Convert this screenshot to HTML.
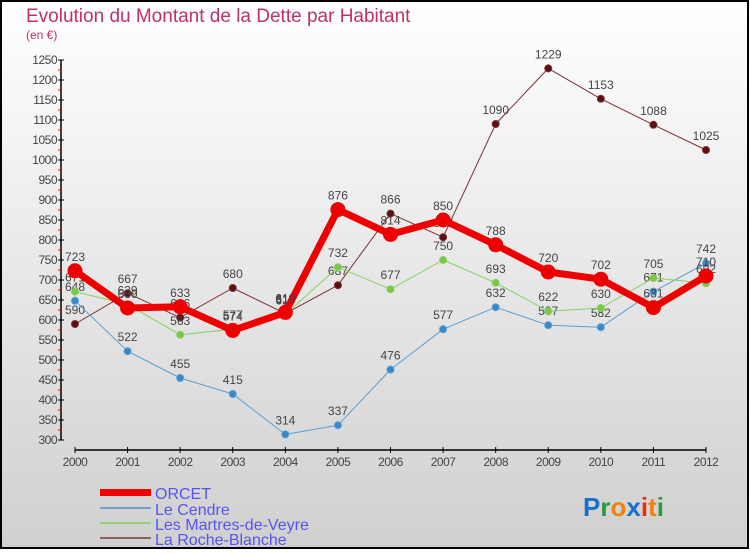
<!DOCTYPE html>
<html><head><meta charset="utf-8"><style>
html,body{margin:0;padding:0}
body{width:750px;height:550px;overflow:hidden}
svg text{font-family:"Liberation Sans",sans-serif}
</style></head><body>
<svg width="750" height="550" xmlns="http://www.w3.org/2000/svg">
<defs><linearGradient id="bg" x1="0" y1="0" x2="0" y2="1"><stop offset="0" stop-color="#ffffff"/><stop offset="1" stop-color="#d0d0d0"/></linearGradient></defs>
<rect x="1" y="1" width="747" height="547" fill="url(#bg)" stroke="#000" stroke-width="2"/>
<text x="26" y="22" font-size="19" fill="#c0306a">Evolution du Montant de la Dette par Habitant</text>
<text x="26" y="39" font-size="12" fill="#c0306a">(en €)</text>
<g id="axes"></g><g id="series"></g>
<g>
<rect x="100" y="489" width="51" height="7" fill="#ee0000"/>
<text x="155" y="499" font-size="16" fill="#5555ee">ORCET</text>
<rect x="100" y="507" width="51" height="2" fill="#6fa0c8"/>
<text x="155" y="515" font-size="16" fill="#5555ee">Le Cendre</text>
<rect x="100" y="522" width="51" height="2" fill="#99d077"/>
<text x="155" y="530" font-size="16" fill="#5555ee">Les Martres-de-Veyre</text>
<rect x="100" y="537" width="51" height="2" fill="#8a6060"/>
<text x="155" y="545" font-size="16" fill="#5555ee">La Roche-Blanche</text>
</g>
<text x="583" y="516" font-size="26" font-weight="bold"><tspan fill="#1a70c8">P</tspan><tspan fill="#2a9a3a">r</tspan><tspan fill="#f08010">o</tspan><tspan fill="#1a70c8">x</tspan><tspan fill="#e83010">i</tspan><tspan fill="#f08010">t</tspan><tspan fill="#2a9a3a">i</tspan></text>
</svg>
<script>
const years=[2000,2001,2002,2003,2004,2005,2006,2007,2008,2009,2010,2011,2012];
const orcet=[723,630,633,574,619,876,814,850,788,720,702,631,710];
const leCendre=[648,522,455,415,314,337,476,577,632,587,582,671,742];
const martres=[671,639,563,577,614,732,677,750,693,622,630,705,692];
const roche=[590,667,606,680,616,687,866,807,1090,1229,1153,1088,1025];
const yTicks=[300,350,400,450,500,550,600,650,700,750,800,850,900,950,1000,1050,1100,1150,1200,1250];
const NS="http://www.w3.org/2000/svg";
const x=i=>75+i*(706-75)/(years.length-1);
const y=v=>440-(v-300)*0.4;
function mk(t,a,p){const e=document.createElementNS(NS,t);for(const k in a)e.setAttribute(k,a[k]);p.appendChild(e);return e;}
const ax=document.getElementById('axes');
let l=mk('line',{x1:61,y1:y(1250),x2:61,y2:440,stroke:'#000','stroke-width':1.5},ax);


yTicks.forEach(v=>{
  mk('line',{x1:58,y1:y(v),x2:64,y2:y(v),stroke:'#000'},ax);
  if(v<1250)mk('line',{x1:58,y1:y(v+25),x2:62,y2:y(v+25),stroke:'#e00'},ax);
  const t=mk('text',{x:57,y:y(v)+4,'font-size':12,fill:'#444','text-anchor':'end','letter-spacing':'-0.5'},ax);
  t.textContent=v;
  
  
});
l=mk('line',{x1:75,y1:450,x2:706,y2:450,stroke:'#000','stroke-width':1.5},ax);


years.forEach((yr,i)=>{
  mk('line',{x1:x(i),y1:447,x2:x(i),y2:453,stroke:'#000'},ax);
  const t=mk('text',{x:x(i),y:466,'font-size':12,fill:'#444','text-anchor':'middle','letter-spacing':'-0.5'},ax);
  t.textContent=yr;
  
  
});
const sg=document.getElementById('series');
function draw(vals,name,color,w,r,dot){
  const g=mk('g',{},sg);
  
  
  mk('polyline',{points:vals.map((v,i)=>x(i)+','+y(v)).join(' '),fill:'none',stroke:color,'stroke-width':w,'stroke-linejoin':'round'},g);
  vals.forEach((v,i)=>{
    const c=mk('circle',{cx:x(i),cy:y(v),r:r,fill:dot,stroke:color,'stroke-width':1},g);
    
    
    const t=mk('text',{x:x(i),y:y(v)-10,'font-size':12,fill:'#444','text-anchor':'middle'},g);
    t.textContent=v;
    
    
  });
}
draw(roche,'la-roche-blanche','#7a3030',1,3.5,'#5a1010');
draw(leCendre,'le-cendre','#5a9ed0',1,3.5,'#3a88c8');
draw(martres,'les-martres-de-veyre','#88d060',1,3.5,'#7ac848');
draw(orcet,'orcet','#ee0000',7,7,'#ee0000');
</script>
</body></html>
